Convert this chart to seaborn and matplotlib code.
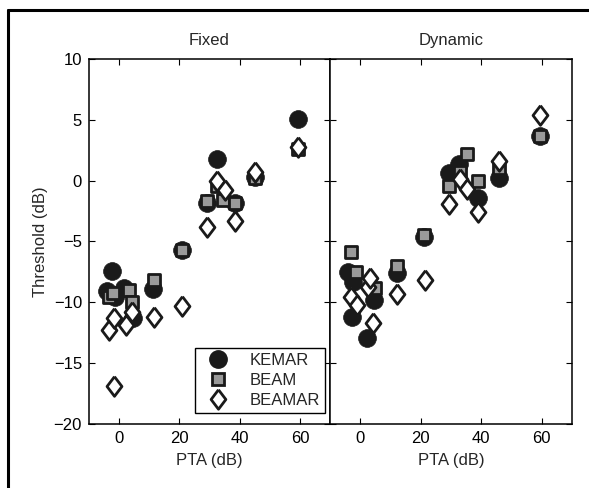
import matplotlib
matplotlib.use("Agg")
import matplotlib.pyplot as plt
import seaborn as sns
import pandas as pd
from matplotlib.lines import Line2D

# ---------------- data ----------------
panels = ["Fixed", "Dynamic"]
series = ["KEMAR", "BEAM", "BEAMAR"]

fixed_kemar_pta = [-4.0, -2.3, -1.5, 1.6, 4.7, 11.4, 20.8, 29.3, 32.6, 38.5, 45.2, 59.5]
fixed_kemar_thr = [-9.1, -7.4, -9.6, -8.8, -11.3, -8.9, -5.7, -1.8, 1.8, -1.8, 0.3, 5.1]
fixed_beam_pta = [-3.4, -1.9, 3.2, 4.4, 11.7, 20.8, 29.3, 32.6, 34.6, 38.5, 45.2, 59.5]
fixed_beam_thr = [-9.6, -9.2, -9.0, -10.0, -8.2, -5.7, -1.7, -0.4, -1.6, -1.8, 0.2, 2.6]
fixed_beamar_pta = [-3.4, -1.7, -1.7, 2.2, 4.2, 11.7, 20.8, 29.3, 32.6, 35.2, 38.5, 45.2, 59.5]
fixed_beamar_thr = [-12.3, -11.3, -16.9, -11.9, -10.8, -11.2, -10.3, -3.8, 0.0, -0.8, -3.3, 0.7, 2.8]

dyn_kemar_pta = [-3.9, -2.3, -2.7, 2.1, 4.7, 12.1, 21.0, 29.2, 32.5, 38.8, 45.8, 59.5]
dyn_kemar_thr = [-7.5, -8.3, -11.2, -12.9, -9.8, -7.6, -4.6, 0.6, 1.4, -1.4, 0.2, 3.7]
dyn_beam_pta = [-3.1, -1.5, 4.9, 12.1, 21.0, 29.5, 33.1, 35.4, 38.8, 45.8, 59.5]
dyn_beam_thr = [-5.9, -7.5, -8.8, -7.0, -4.5, -0.4, 0.7, 2.2, 0.0, 1.0, 3.7]
dyn_beamar_pta = [-3.0, -1.2, 2.7, 3.2, 4.3, 12.1, 21.3, 29.5, 33.1, 35.4, 38.8, 45.8, 59.5]
dyn_beamar_thr = [-9.6, -10.2, -8.7, -8.0, -11.7, -9.3, -8.2, -1.9, 0.1, -0.7, -2.6, 1.6, 5.4]

x_ticks = [0, 20, 40, 60]
y_ticks = [-20, -15, -10, -5, 0, 5, 10]
y_tick_labels = ["\u221220", "\u221215", "\u221210", "\u22125", "0", "5", "10"]

rows = []
def add(panel, s, xs, ys):
    for x, y in zip(xs, ys):
        rows.append({"panel": panel, "series": s, "PTA": x, "Threshold": y})

add("Fixed", "KEMAR", fixed_kemar_pta, fixed_kemar_thr)
add("Fixed", "BEAM", fixed_beam_pta, fixed_beam_thr)
add("Fixed", "BEAMAR", fixed_beamar_pta, fixed_beamar_thr)
add("Dynamic", "KEMAR", dyn_kemar_pta, dyn_kemar_thr)
add("Dynamic", "BEAM", dyn_beam_pta, dyn_beam_thr)
add("Dynamic", "BEAMAR", dyn_beamar_pta, dyn_beamar_thr)
df = pd.DataFrame(rows)

# ---------------- style ----------------
sns.set_style("ticks")
plt.rcParams["font.family"] = ["Liberation Sans", "DejaVu Sans"]
FS = 12
plt.rcParams["font.size"] = FS

diamond = [(0, 1), (0.76, 0), (0, -1), (-0.76, 0), (0, 1)]

styles = {
    "KEMAR": dict(marker="o", s=165, facecolor="#1a1a1a", edgecolor="#1a1a1a", linewidth=0.5),
    "BEAM": dict(marker="s", s=80, facecolor="#9a9a9a", edgecolor="#1a1a1a", linewidth=2.0),
    "BEAMAR": dict(marker=diamond, s=200, facecolor="white", edgecolor="#1a1a1a", linewidth=2.0),
}

fig = plt.figure(figsize=(5.89, 4.88), dpi=100)
W, H = 589, 488
axL = fig.add_axes([89 / W, (H - 424) / H, 241 / W, 365 / H])
axR = fig.add_axes([330 / W, (H - 424) / H, 242 / W, 365 / H])

for ax, panel in zip([axL, axR], panels):
    sub = df[df.panel == panel]
    for s in series:
        d = sub[sub.series == s]
        st = styles[s]
        sns.scatterplot(data=d, x="PTA", y="Threshold", ax=ax, marker=st["marker"],
                        s=st["s"], color=st["facecolor"], edgecolor=st["edgecolor"],
                        linewidth=st["linewidth"], legend=False, zorder=3)
    ax.set_xlim(-10, 70)
    ax.set_ylim(-20, 10)
    ax.set_xticks(x_ticks)
    ax.set_yticks(y_ticks)
    ax.tick_params(direction="in", top=True, right=True, length=4, width=0.8,
                   labelsize=FS, colors="black", pad=5)
    ax.set_title(panel, fontsize=FS, pad=10)
    ax.set_xlabel("PTA (dB)", fontsize=FS, labelpad=5)
    for sp in ax.spines.values():
        sp.set_visible(True)
        sp.set_linewidth(1.1)
        sp.set_color("black")

axL.set_ylabel("Threshold (dB)", fontsize=FS, labelpad=4)
axL.set_yticklabels(y_tick_labels)
axR.set_ylabel("")
axR.set_yticklabels([])

handles = [
    Line2D([], [], linestyle="none", marker="o", markersize=12.5, markerfacecolor="#1a1a1a",
           markeredgecolor="#1a1a1a", label="KEMAR"),
    Line2D([], [], linestyle="none", marker="s", markersize=8.5, markerfacecolor="#9a9a9a",
           markeredgecolor="#1a1a1a", markeredgewidth=2.0, label="BEAM"),
    Line2D([], [], linestyle="none", marker=diamond, markersize=14, markerfacecolor="white",
           markeredgecolor="#1a1a1a", markeredgewidth=2.0, label="BEAMAR"),
]
leg = axL.legend(handles=handles, loc="lower right", bbox_to_anchor=(0.98, 0.03),
                 frameon=True, fancybox=False, edgecolor="black", framealpha=1,
                 fontsize=FS, handletextpad=0.8, borderpad=0.3, labelspacing=0.3,
                 handlelength=2.2, borderaxespad=0)
leg.get_frame().set_linewidth(1.0)
leg.set_zorder(5)

# outer frame (top and left edges visible)
fig.add_artist(Line2D([8 / W, 1.0], [1 - 10 / H, 1 - 10 / H], color="black", linewidth=2.2,
                      transform=fig.transFigure))
fig.add_artist(Line2D([8 / W, 8 / W], [0.0, 1 - 10 / H], color="black", linewidth=2.2,
                      transform=fig.transFigure))

fig.savefig("out.png", dpi=100)
